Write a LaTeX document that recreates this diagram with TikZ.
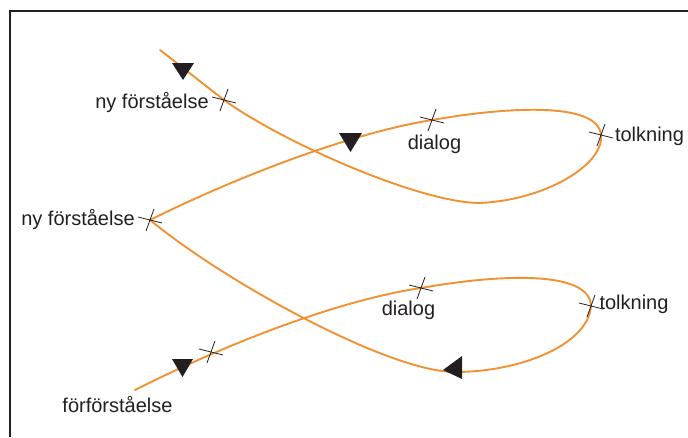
\documentclass[tikz,border=0pt]{standalone}
\usepackage{fontspec}
\setmainfont{Liberation Sans}
\definecolor{curve}{RGB}{242,145,50}
\definecolor{ink}{RGB}{35,31,32}
\tikzset{
  path line/.style={draw=curve, line width=1.9pt, line cap=round},
  frame line/.style={draw=ink, line width=2pt},
  cross line/.style={draw=ink, line width=0.8pt},
  label text/.style={text=ink, inner sep=0pt, anchor=base,
    font=\fontsize{20}{24}\selectfont},
  arrow tri/.style={fill=ink, draw=none},
  xcross/.pic={
    \draw[cross line] (-12,-3) -- (12,3);
    \draw[cross line] (4,-11) -- (-4,11);
  }
}
\begin{document}
\begin{tikzpicture}[x=1pt, y=-1pt]
\useasboundingbox (0,0) rectangle (688,437);

% frame: top and left edges only
\draw[frame line] (10,437) -- (10,10.5) -- (688,10.5);

% stations along the spiral
\coordinate (start) at (135,390);
\coordinate (t1) at (211,352);
\coordinate (t2) at (421,288);
\coordinate (t3) at (591,306);
\coordinate (low) at (455,372);
\coordinate (t4) at (150,220);
\coordinate (t5) at (432,120);
\coordinate (t6) at (601,135);
\coordinate (bot) at (480,203);
\coordinate (t7) at (224,100);
\coordinate (finish) at (160,50);

% the hermeneutic spiral
\draw[path line] (start)
  .. controls (230,342) and (340,300) .. (t2)
  .. controls (500,274) and (590,270) .. (t3)
  .. controls (588,345) and (520,372) .. (low)
  .. controls (390,372) and (228,284) .. (t4)
  .. controls (220,185) and (340,135) .. (t5)
  .. controls (500,108) and (598,100) .. (t6)
  .. controls (604,165) and (545,200) .. (bot)
  .. controls (420,203) and (282,142) .. (t7)
  -- (finish);

% crossing marks
\foreach \t in {t1,t2,t3,t4,t5,t6,t7} \path (\t) pic {xcross};

% arrowheads
\fill[arrow tri] (172,359) -- (193,359) -- (182.5,377) -- cycle;
\fill[arrow tri] (339,133) -- (362,133) -- (350.5,152) -- cycle;
\fill[arrow tri] (172,63) -- (194,63) -- (183,80) -- cycle;
\fill[arrow tri] (443,370) -- (462,356) -- (462,379) -- cycle;

% labels
\node[label text] (l1) at (152,108) {ny förståelse};
\node[label text] (l2) at (78,225) {ny förståelse};
\node[label text] (l3) at (434.5,149) {dialog};
\node[label text] (l4) at (649.5,141.5) {tolkning};
\node[label text] (l5) at (408.5,315) {dialog};
\node[label text] (l6) at (634,309) {tolkning};
\node[label text] (l7) at (117.5,412) {förförståelse};
\end{tikzpicture}
\end{document}
